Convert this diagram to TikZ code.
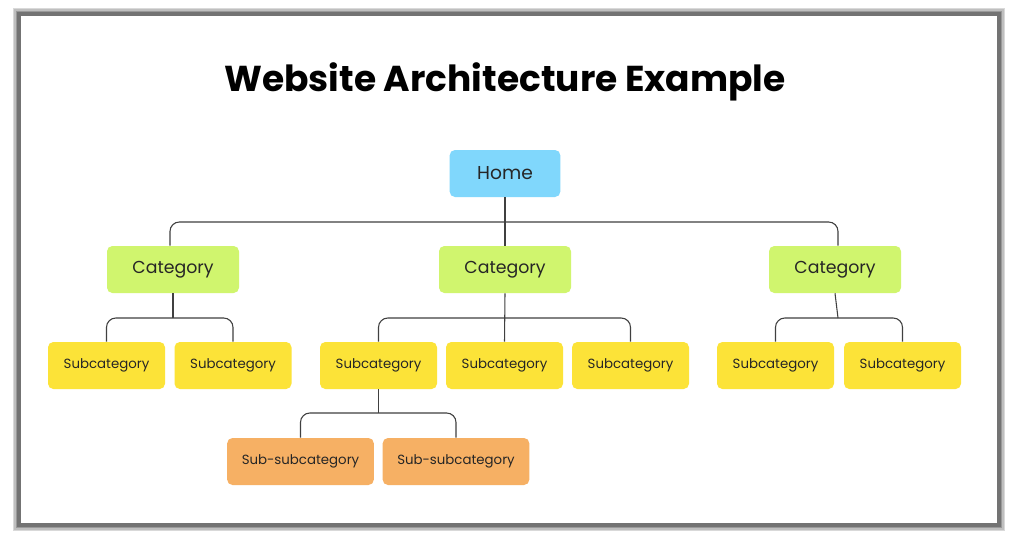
\documentclass[tikz,border=0pt]{standalone}
\usepackage{fontspec}
\setmainfont{Poppins}
\begin{document}
\begin{tikzpicture}[x=0.75pt,y=-0.75pt,
  box/.style={rounded corners=4pt,minimum height=35.25pt,inner sep=0pt,text=black!85},
  homebox/.style={box,fill={rgb,255:red,128;green,215;blue,252},minimum width=83pt,font=\fontsize{14}{16}\selectfont},
  catbox/.style={box,fill={rgb,255:red,208;green,245;blue,110},minimum width=99pt,font=\fontsize{13}{15}\selectfont},
  subbox/.style={box,fill={rgb,255:red,252;green,227;blue,56},minimum width=87.75pt,font=\fontsize{10}{12}\selectfont},
  ssbox/.style={box,fill={rgb,255:red,246;green,176;blue,100},minimum width=110pt,font=\fontsize{10}{12}\selectfont},
  link/.style={draw=black!75,line width=0.8pt,rounded corners=7pt}]
\useasboundingbox (0,0) rectangle (1017,539);
\fill[white] (0,0) rectangle (1017,539);
\foreach \w/\c in {9/black!15,7/black!25,5/black!40,3/black!55}
  \draw[line width=\w pt,\c] (19,14) rectangle (999,525);
\fill[white] (21,16) rectangle (997,523);
\node[font=\fontsize{27}{30}\selectfont\bfseries] (title) at (505,82) {Website Architecture Example};
\node[homebox] (home) at (505,173.5) {Home};
\node[catbox] (c1) at (173,269.5) {Category};
\node[catbox] (c2) at (505,269.5) {Category};
\node[catbox] (c3) at (835,269.5) {Category};
\node[subbox] (s1) at (106.5,365.5) {Subcategory};
\node[subbox] (s2) at (233,365.5) {Subcategory};
\node[subbox] (s3) at (378.5,365.5) {Subcategory};
\node[subbox] (s4) at (504.5,365.5) {Subcategory};
\node[subbox] (s5) at (630.5,365.5) {Subcategory};
\node[subbox] (s6) at (775.5,365.5) {Subcategory};
\node[subbox] (s7) at (902.5,365.5) {Subcategory};
\node[ssbox] (t1) at (300.5,461.5) {Sub-subcategory};
\node[ssbox] (t2) at (456,461.5) {Sub-subcategory};
\draw[link] (home.south) -- (505,222);
\draw[link] (c1.north -| 170,0) |- (505,222) -| (838,0 |- c3.north);
\draw[link] (c2.north) -- (505,222);
\draw[link] (c1.south) -- (173,318);
\draw[link] (s1.north) |- (173,318) -| (s2.north);
\draw[link] (c2.south) -- (s4.north);
\draw[link] (s3.north) |- (505,318) -| (s5.north);
\draw[link] (c3.south) -- (838,318);
\draw[link] (s6.north) |- (838,318) -| (s7.north);
\draw[link] (s3.south) -- (378.5,413);
\draw[link] (t1.north) |- (378.5,413) -| (t2.north);
\end{tikzpicture}
\end{document}
